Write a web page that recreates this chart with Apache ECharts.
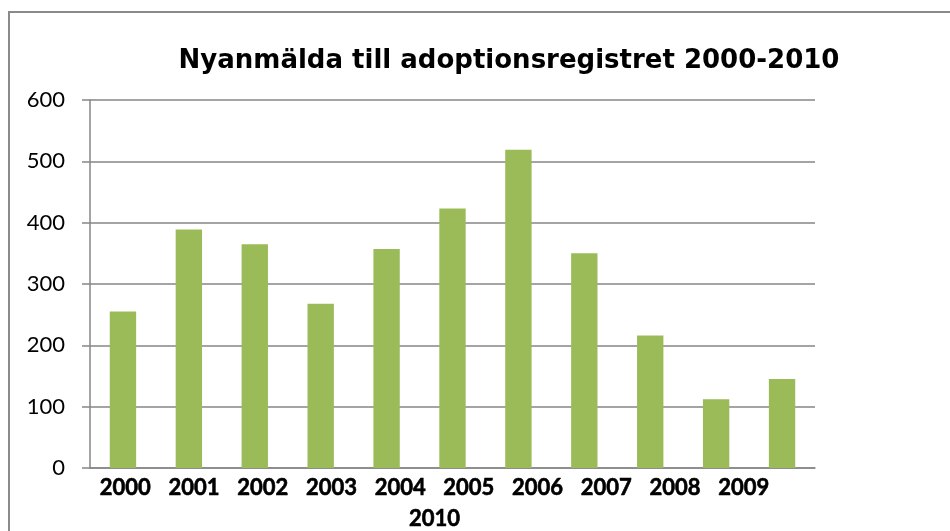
<!DOCTYPE html>
<html>
<head>
<meta charset="utf-8">
<title>Nyanmälda till adoptionsregistret</title>
<script src="https://cdn.jsdelivr.net/npm/echarts@6/dist/echarts.min.js"></script>
<style>
  html, body {
    margin: 0;
    padding: 0;
    background: #fff;
  }
  #chart {
    width: 950px;
    height: 531px;
  }
</style>
</head>
<body>
<div id="chart"></div>
<script>
// data
const titleText = "Nyanmälda till adoptionsregistret 2000-2010";
const years = ["2000", "2001", "2002", "2003", "2004", "2005", "2006", "2007", "2008", "2009", "2010"];
const counts = [255, 389, 365, 268, 357, 423, 519, 350, 216, 112, 145];
const yTicks = [0, 100, 200, 300, 400, 500, 600];

const chart = echarts.init(document.getElementById("chart"), null, { renderer: "canvas" });

// x-axis labels run as one wrapped line in the original
function yearLine() {
  let first = years.slice(0, years.length - 1).map((y) => "{y|" + y + "}").join("");
  return first + "\n{y|" + years[years.length - 1] + "}";
}

let options = {
  animation: false,
  backgroundColor: "#fff",
  title: {
    text: titleText,
    left: 504,
    top: 43,
    textAlign: "center",
    textStyle: {
      fontFamily: "DejaVu Sans",
      fontWeight: "bold",
      fontSize: 26,
      color: "#000",
    },
  },
  graphic: [
    {
      // chart area frame (left/top edges visible)
      type: "rect",
      silent: true,
      shape: { x: 9, y: 12, width: 1000, height: 600 },
      style: { fill: "none", stroke: "#8a8a8a", lineWidth: 2 },
    },
  ],
  grid: {
    left: 90,
    right: 135,
    top: 100,
    bottom: 63,
    outerBoundsMode: "none",
  },
  xAxis: [
    {
      type: "category",
      data: years,
      axisLine: { show: true, lineStyle: { color: "#868686", width: 1.5 } },
      axisTick: { show: false },
      axisLabel: { show: false },
    },
    {
      type: "category",
      data: ["all"],
      position: "bottom",
      axisLine: { show: false },
      axisTick: { show: false },
      axisLabel: {
        margin: 4,
        padding: [0, 36, 0, 0],
        formatter: yearLine,
        rich: {
          y: {
            width: 68.7,
            align: "center",
            fontFamily: "Lato",
            fontWeight: "bold",
            fontSize: 22,
            lineHeight: 31,
            color: "#000",
            textBorderColor: "#000",
            textBorderWidth: 0.6,
          },
        },
      },
    },
  ],
  yAxis: {
    type: "value",
    min: yTicks[0],
    max: yTicks[yTicks.length - 1],
    interval: yTicks[1] - yTicks[0],
    axisLine: { show: true, lineStyle: { color: "#868686", width: 1.5 } },
    axisTick: { show: true, length: 8, lineStyle: { color: "#868686", width: 1.5 } },
    axisLabel: {
      margin: 25,
      fontFamily: "Lato",
      fontSize: 22,
      color: "#000",
    },
    splitLine: { show: true, lineStyle: { color: "#868686", width: 1.5 } },
  },
  series: [
    {
      name: "Nyanmälda",
      type: "bar",
      xAxisIndex: 0,
      barWidth: "40%",
      itemStyle: { color: "#9bbb59" },
      data: counts,
    },
  ],
};

chart.setOption(options);
</script>
</body>
</html>
